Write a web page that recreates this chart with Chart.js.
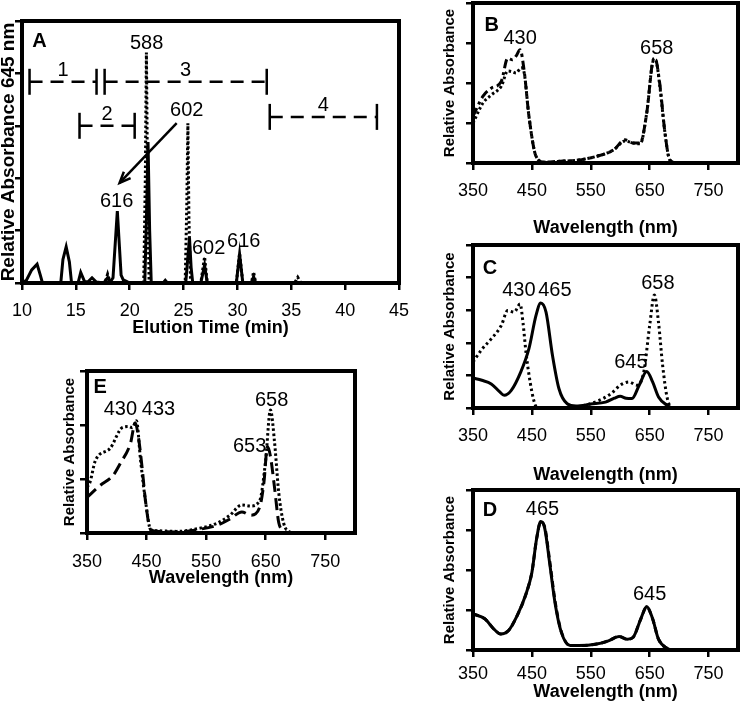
<!DOCTYPE html>
<html>
<head>
<meta charset="utf-8">
<script src="https://cdn.jsdelivr.net/npm/chart.js@4.4.1/dist/chart.umd.min.js"></script>
<style>
  html, body { margin: 0; background: #fff; }
  body { position: relative; width: 745px; height: 704px; overflow: hidden; }
  canvas { position: absolute; }
</style>
</head>
<body>
<canvas id="chartA" width="424" height="339" style="left:-3px;top:0px"></canvas>
<canvas id="chartB" width="302" height="239" style="left:441px;top:0px"></canvas>
<canvas id="chartC" width="302" height="246" style="left:441px;top:240px"></canvas>
<canvas id="chartD" width="302" height="218" style="left:441px;top:485px"></canvas>
<canvas id="chartE" width="309" height="223" style="left:61px;top:366px"></canvas>
<script>
// ---- Panel A: elution profile ----
const timeTicks = [10, 15, 20, 25, 30, 35, 40, 45];
const solidTime = [10, 10.4, 10.9, 11.4, 11.7, 11.9, 13.6, 13.8, 14.1, 14.4, 14.6, 15.2, 15.45, 15.8, 16.1, 16.5, 16.9, 17.6, 17.95, 18.2, 18.45, 18.85, 19.2, 19.4, 19.7, 20.0,
                   21.4, 21.55, 21.7, 21.85, 22.0, 23.1, 23.3, 23.5, 25.2, 25.4, 25.55, 25.7, 25.85, 26.6, 26.95, 27.2, 29.9, 30.2, 30.5, 31.3, 31.5, 31.7, 45];
const solidAbs  = [0, 0.05, 0.25, 0.36, 0.15, 0, 0, 0.45, 0.69, 0.4, 0, 0, 0.2, 0.03, 0.02, 0.1, 0.02, 0, 0.1, 0.02, 0.1, 1.37, 0.15, 0.06, 0.03, 0,
                   0, 1.2, 2.69, 1.0, 0, 0, 0.05, 0, 0, 0.5, 0.86, 0.3, 0, 0, 0.34, 0, 0, 0.55, 0, 0, 0.12, 0, 0];
const dotTime = [10, 17.7, 17.95, 18.2, 21.3, 21.45, 21.55, 21.65, 21.8, 25.15, 25.3, 25.4, 25.5, 25.65, 26.6, 26.95, 27.2, 29.9, 30.2, 30.5, 31.3, 31.5, 31.7, 35.3, 35.6, 35.9, 45];
const dotAbs  = [0, 0, 0.17, 0, 0, 2.0, 4.4, 2.0, 0, 0, 1.5, 3.05, 1.2, 0, 0, 0.5, 0, 0, 0.57, 0, 0, 0.21, 0, 0, 0.11, 0, 0];
// fraction brackets
const fractionNames = ['1', '2', '3', '4'];
const fractionStart = [10.7, 15.34, 17.67, 33.0];
const fractionEnd   = [16.92, 20.46, 32.72, 42.95];
const fractionLevel = [3.84, 3.0, 3.84, 3.17];
const labelsA = [['588', 21.57, 4.58], ['602', 25.29, 3.3], ['616', 18.78, 1.55], ['602', 27.33, 0.65], ['616', 30.59, 0.8]];
const arrowsA = [[24.36, 3.05, 19.06, 1.91]];

// ---- Spectra (wavelength in nm) ----
const wlTicks = [350, 450, 550, 650, 750];

const nmB1  = [350, 367, 381, 398, 409, 417, 423, 430, 437, 445, 457, 471, 493, 527, 561, 589, 608, 622, 634, 645, 656, 659, 667, 676, 684, 695, 710];
const absB1 = [1.17, 1.67, 1.87, 2.04, 2.62, 2.58, 2.67, 2.83, 2.29, 1.17, 0.17, 0.02, 0.04, 0.07, 0.17, 0.33, 0.58, 0.5, 0.5, 1.25, 2.58, 2.62, 2.0, 0.75, 0.08, 0, 0];
const nmB2  = [350, 367, 381, 398, 409, 417, 423, 432, 437, 445, 457, 471, 493, 527, 561, 589, 608, 622, 634, 645, 656, 660, 667, 676, 684, 695, 710];
const absB2 = [1.0, 1.5, 1.7, 1.92, 2.3, 2.28, 2.25, 2.38, 2.25, 1.17, 0.17, 0.02, 0.04, 0.07, 0.17, 0.33, 0.55, 0.5, 0.48, 1.25, 2.55, 2.58, 1.95, 0.75, 0.08, 0, 0];
const labelsB = [['430', 430, 3.12], ['658', 662, 2.87]];

const nmC1  = [350, 365, 381, 395, 403, 415, 431, 445, 457, 465, 474, 485, 496, 510, 525, 550, 575, 590, 600, 610, 620, 632, 645, 655, 665, 680, 690, 710];
const absC1 = [0.92, 0.85, 0.74, 0.5, 0.39, 0.54, 1.1, 1.82, 2.84, 3.22, 2.94, 1.61, 0.59, 0.13, 0.06, 0.12, 0.18, 0.3, 0.36, 0.3, 0.29, 0.69, 1.12, 0.8, 0.34, 0.08, 0, 0];
const nmC2  = [350, 365, 381, 398, 409, 420, 430, 435, 440, 447, 453, 458, 470, 520, 560, 585, 600, 615, 628, 640, 650, 658, 665, 672, 680, 690, 710];
const absC2 = [1.41, 1.8, 2.12, 2.53, 2.99, 2.94, 3.19, 2.6, 1.7, 0.8, 0.25, 0.03, 0, 0.02, 0.2, 0.45, 0.7, 0.8, 0.7, 1.1, 2.53, 3.47, 2.63, 1.31, 0.29, 0, 0];
const labelsC = [['430', 428, 3.59], ['465', 489, 3.59], ['658', 664, 3.83], ['645', 618, 1.41]];

const nmD1  = [350, 370, 385, 397, 410, 425, 440, 450, 458, 465, 472, 480, 490, 500, 515, 530, 560, 580, 598, 612, 622, 635, 645, 655, 665, 680, 690, 710];
const absD1 = [0.9, 0.78, 0.53, 0.4, 0.48, 0.86, 1.4, 1.94, 2.78, 3.21, 3.03, 2.19, 1.11, 0.44, 0.11, 0.11, 0.15, 0.23, 0.34, 0.27, 0.32, 0.78, 1.09, 0.78, 0.27, 0.04, 0, 0];
const absD2 = [0.9, 0.78, 0.53, 0.4, 0.48, 0.86, 1.4, 1.94, 2.78, 3.2, 3.06, 2.25, 1.16, 0.46, 0.11, 0.11, 0.15, 0.23, 0.34, 0.27, 0.32, 0.78, 1.08, 0.78, 0.27, 0.04, 0, 0];
const labelsD = [['465', 468, 3.52], ['645', 650, 1.38]];

const nmE1  = [350, 355, 364, 389, 409, 420, 426, 433, 440, 448, 457, 470, 500, 540, 570, 590, 610, 625, 640, 650, 658, 665, 672, 680, 690, 700];
const absE1 = [0.85, 0.94, 1.34, 1.57, 1.95, 1.97, 1.95, 2.08, 1.34, 0.61, 0.06, 0.04, 0.03, 0.09, 0.19, 0.33, 0.52, 0.5, 0.6, 1.35, 2.28, 1.67, 0.74, 0.19, 0.02, 0];
const nmE2  = [350, 372, 394, 406, 423, 431, 436, 443, 448, 457, 470, 500, 540, 570, 590, 610, 625, 640, 647, 653, 658, 665, 672, 680, 690, 700];
const absE2 = [0.66, 0.88, 1.07, 1.29, 1.66, 2.04, 1.8, 1.16, 0.61, 0.06, 0.03, 0.02, 0.07, 0.15, 0.26, 0.39, 0.33, 0.48, 0.93, 1.6, 1.42, 0.83, 0.19, 0.05, 0, 0];
const labelsE = [['430', 406, 2.28], ['433', 470, 2.28], ['658', 660, 2.46], ['653', 623, 1.61]];

const FONT = "'Liberation Sans', Arial, Helvetica, sans-serif";
Chart.defaults.font.family = FONT;
Chart.defaults.color = '#000';

const pts = (xs, ys) => xs.map((x, i) => ({x: x, y: ys[i]}));

// black frame around the plot area
const framePlugin = {
    id: 'frame',
    afterDraw(chart) {
        const {ctx, chartArea: a} = chart;
        ctx.save();
        ctx.strokeStyle = '#000';
        ctx.lineWidth = 4;
        ctx.strokeRect(a.left, a.top, a.right - a.left, a.bottom - a.top);
        ctx.restore();
    }
};

// peak labels, panel letter and arrows, placed in data units
function notes(letter, letterPos, labels, arrows) {
    return {
        id: 'notes',
        afterDatasetsDraw(chart) {
            const {ctx, scales: {x, y}} = chart;
            ctx.save();
            ctx.fillStyle = '#000';
            ctx.strokeStyle = '#000';
            ctx.textAlign = 'center';
            ctx.textBaseline = 'middle';
            ctx.font = 'bold 20px ' + FONT;
            ctx.fillText(letter, x.getPixelForValue(letterPos[0]), y.getPixelForValue(letterPos[1]));
            ctx.font = '20px ' + FONT;
            labels.forEach(l => ctx.fillText(l[0], x.getPixelForValue(l[1]), y.getPixelForValue(l[2])));
            (arrows || []).forEach(ar => {
                const x1 = x.getPixelForValue(ar[0]), y1 = y.getPixelForValue(ar[1]);
                const x2 = x.getPixelForValue(ar[2]), y2 = y.getPixelForValue(ar[3]);
                const ang = Math.atan2(y2 - y1, x2 - x1);
                ctx.lineWidth = 2.5;
                ctx.beginPath();
                ctx.moveTo(x1, y1);
                ctx.lineTo(x2, y2);
                ctx.stroke();
                ctx.beginPath();
                ctx.moveTo(x2 - 12 * Math.cos(ang - 0.4), y2 - 12 * Math.sin(ang - 0.4));
                ctx.lineTo(x2, y2);
                ctx.lineTo(x2 - 12 * Math.cos(ang + 0.4), y2 - 12 * Math.sin(ang + 0.4));
                ctx.stroke();
            });
            ctx.restore();
        }
    };
}

function scales(o) {
    const tickGrid = {drawOnChartArea: false, drawTicks: true, tickLength: 7, color: '#000', lineWidth: 2.5};
    return {
        x: {
            type: 'linear', min: o.xMin, max: o.xMax,
            afterBuildTicks: s => { s.ticks = o.xTicks.map(v => ({value: v})); },
            afterFit: s => { s.height = o.xH; },
            grid: tickGrid,
            border: {display: false},
            ticks: {font: {size: 18}, padding: o.xPad, maxRotation: 0, autoSkip: false},
            title: {display: true, text: o.xTitle, font: {size: 18, weight: 'bold'}, padding: 0}
        },
        y: {
            type: 'linear', min: 0, max: o.yMax,
            afterFit: s => { s.width = o.yW; },
            grid: tickGrid,
            border: {display: false},
            ticks: {display: false, stepSize: 1},
            title: {display: true, text: o.yTitle, font: {size: o.yFont, weight: 'bold'}, padding: 0}
        }
    };
}

function line(data, dash, width, tension) {
    return {
        data: data, borderColor: '#000', borderWidth: width || 3, borderDash: dash || [],
        pointRadius: 0, fill: false, tension: tension || 0,
        cubicInterpolationMode: tension ? 'monotone' : 'default'
    };
}

const baseOptions = (padding, sc) => ({
    responsive: false, animation: false,
    layout: {padding: padding},
    plugins: {legend: {display: false}, tooltip: {enabled: false}},
    scales: sc
});

// Panel A
const bracketSets = fractionNames.map((n, i) => ({
    data: [{x: fractionStart[i], y: fractionLevel[i]}, {x: fractionEnd[i], y: fractionLevel[i]}],
    borderColor: '#000', borderWidth: 2.5, borderDash: [13, 8],
    pointStyle: 'line', pointRotation: 90, pointRadius: 13, pointBorderWidth: 2.5, pointBorderColor: '#000'
}));
const fractionLabels = fractionNames.map((n, i) => [n, (fractionStart[i] + fractionEnd[i]) / 2, fractionLevel[i] + 0.21]);

new Chart(document.getElementById('chartA'), {
    type: 'line',
    data: {
        datasets: [
            line(pts(dotTime, dotAbs), [2.5, 2.5], 3),
            line(pts(solidTime, solidAbs), [], 3)
        ].concat(bracketSets)
    },
    options: baseOptions({top: 21, right: 22, left: 0, bottom: 0},
        scales({xMin: 10, xMax: 45, xTicks: timeTicks, xH: 56, xPad: 10, xTitle: 'Elution Time (min)',
                yMax: 5, yW: 25, yTitle: 'Relative Absorbance 645 nm', yFont: 19})),
    plugins: [framePlugin, notes('A', [11.63, 4.6], labelsA.concat(fractionLabels), arrowsA)]
});

const spectrumScales = (xH, xPad, yMax, yW) => scales({xMin: 350, xMax: 800, xTicks: wlTicks, xH: xH, xPad: xPad,
    xTitle: 'Wavelength (nm)', yMax: yMax, yW: yW, yTitle: 'Relative Absorbance', yFont: 15});

// Panel B
new Chart(document.getElementById('chartB'), {
    type: 'line',
    data: {datasets: [
        line(pts(nmB2, absB2), [2.5, 2.5], 3, 0.3),
        line(pts(nmB1, absB1), [9, 4, 3, 4], 3, 0.3)
    ]},
    options: baseOptions({top: 3, right: 5, left: 0, bottom: 0}, spectrumScales(76, 10, 4, 32)),
    plugins: [framePlugin, notes('B', [382, 3.45], labelsB)]
});

// Panel C
new Chart(document.getElementById('chartC'), {
    type: 'line',
    data: {datasets: [
        line(pts(nmC2, absC2), [2.5, 3], 3, 0.3),
        line(pts(nmC1, absC1), [], 3, 0.3)
    ]},
    options: baseOptions({top: 5, right: 5, left: 0, bottom: 0}, spectrumScales(78, 10, 5, 32)),
    plugins: [framePlugin, notes('C', [379, 4.29], labelsC)]
});

// Panel D
new Chart(document.getElementById('chartD'), {
    type: 'line',
    data: {datasets: [
        line(pts(nmD1, absD2), [6, 4], 3, 0.3),
        line(pts(nmD1, absD1), [], 3, 0.3)
    ]},
    options: baseOptions({top: 5, right: 5, left: 0, bottom: 0}, spectrumScales(53, 6, 4, 32)),
    plugins: [framePlugin, notes('D', [379, 3.5], labelsD)]
});

// Panel E
new Chart(document.getElementById('chartE'), {
    type: 'line',
    data: {datasets: [
        line(pts(nmE1, absE1), [2.5, 2.5], 3, 0.3),
        line(pts(nmE2, absE2), [12, 6], 3, 0.3)
    ]},
    options: baseOptions({top: 5, right: 15, left: 0, bottom: 0}, spectrumScales(56, 11, 3, 26)),
    plugins: [framePlugin, notes('E', [372, 2.69], labelsE)]
});
</script>
</body>
</html>
